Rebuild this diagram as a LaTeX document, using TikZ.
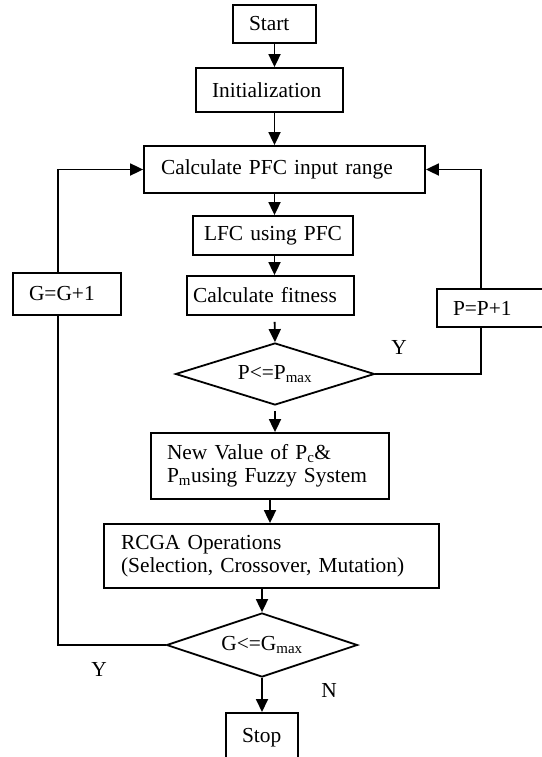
\documentclass[tikz,border=0pt]{standalone}
\usepackage{fontspec}
\setmainfont{Liberation Serif}
\usetikzlibrary{arrows.meta,shapes.geometric}

\begin{document}
\begin{tikzpicture}[x=1pt,y=-1pt,line width=1.8pt,
  every node/.style={font=\fontsize{21.4}{23}\selectfont},
  box/.style={draw,align=left,inner xsep=16pt,inner ysep=0pt},
  decision/.style={draw,diamond,aspect=3,inner sep=0pt},
  arr/.style={-{Triangle[length=13pt,width=12pt]}}]
\useasboundingbox (0,0) rectangle (541,757);
% main column
\node[box,text width=51pt,minimum height=38pt] (start) at (274.5,24) {Start};
\node[box,text width=115pt,minimum height=44pt] (init) at (269.5,90) {Initialization};
\node[box,inner xsep=17pt,text width=247pt,minimum height=47pt] (calc) at (284.5,169.5) {Calculate PFC input range};
\node[box,inner xsep=11pt,text width=138pt,minimum height=39pt] (lfc) at (273,235.5) {LFC using PFC};
\node[box,inner xsep=6pt,text width=155pt,minimum height=39pt] (fit) at (270.5,295.5) {Calculate fitness};
\node[decision,minimum width=199pt,minimum height=62pt] (pmax) at (275,374) {P<=P\textsubscript{max}};
\node[box,text width=206pt,minimum height=66pt] (newval) at (270,466) {New Value of P\textsubscript{c}\&\\P\textsubscript{m}using Fuzzy System};
\node[box,inner xsep=17pt,text width=301pt,minimum height=64pt] (rcga) at (271.5,556) {RCGA Operations\\(Selection, Crossover, Mutation)};
\node[decision,minimum width=191pt,minimum height=64pt] (gmax) at (262,645) {G<=G\textsubscript{max}};
\node[box,text width=40pt,inner ysep=15pt,anchor=north] (stop) at (262,712) {Stop};
% loop counters
\node[box,text width=76pt,minimum height=42pt] (gplus) at (67,294) {G=G+1};
\node[box,text width=76pt,minimum height=38pt] (pplus) at (491,308) {P=P+1};
\coordinate (gline) at (58,0);
\coordinate (pline) at (481,0);
% labels
\node (ytop) at (399,347) {Y};
\node (ybot) at (99,669) {Y};
\node (nbot) at (329,690) {N};
% flow
\draw[arr] (start) -- (start |- init.north);
\draw[arr] (init.south -| start) -- (calc.north -| start);
\draw[arr] (calc.south -| start) -- (lfc.north -| start);
\draw[arr] (lfc.south -| start) -- (fit.north -| start);
\draw[arr,shorten <=6pt] (fit.south -| start) -- (pmax.north);
\draw[arr,shorten <=5pt] (pmax.south) -- (newval.north -| pmax);
\draw[arr] (newval) -- (newval |- rcga.north);
\draw[arr] (rcga.south -| gmax) -- (gmax.north);
\draw[arr] (gmax) -- (stop);
% loops back
\draw (pmax.east) -| (pplus.south -| pline);
\draw[arr] (pplus.north -| pline) |- (calc.east);
\draw (gmax.west) -| (gplus.south -| gline);
\draw[arr] (gplus.north -| gline) |- (calc.west);
\end{tikzpicture}
\end{document}
